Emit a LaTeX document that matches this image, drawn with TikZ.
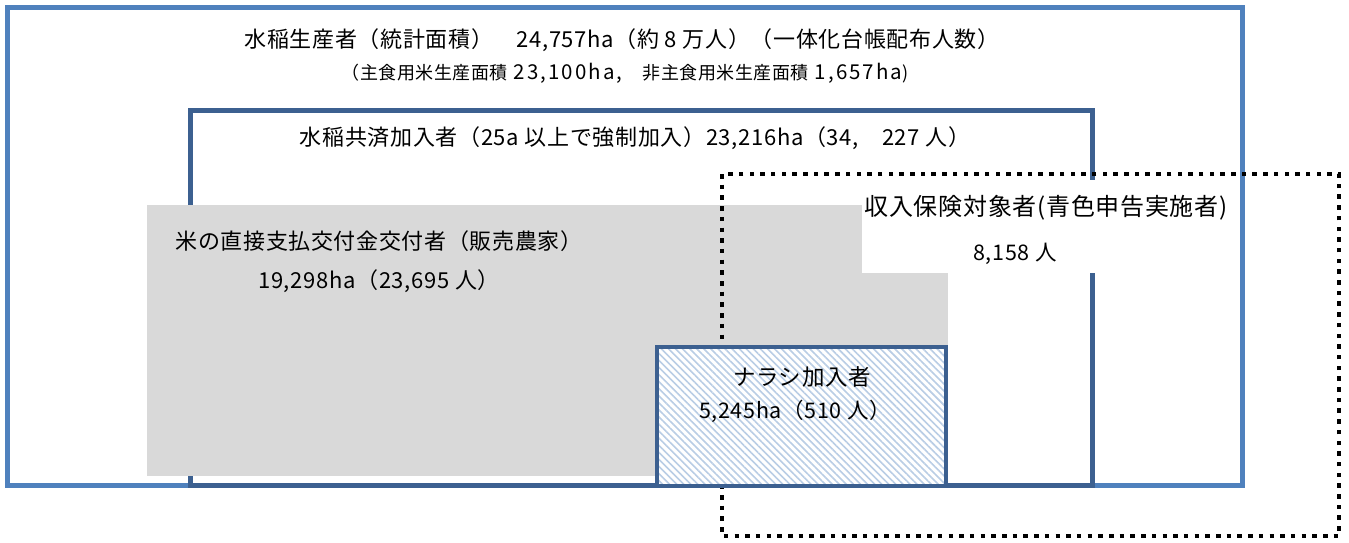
\documentclass[tikz,border=0pt]{standalone}
\usepackage{fontspec}
\setmainfont{Noto Sans CJK JP}[LetterSpace=3]
\usetikzlibrary{patterns.meta}
\definecolor{outerblue}{HTML}{4F81BD}
\definecolor{innerblue}{HTML}{3C6090}
\definecolor{boxgray}{HTML}{D9D9D9}
\definecolor{hatchblue}{HTML}{B9CDE5}
\tikzset{
  outerbox/.style={draw=outerblue,line width=5pt},
  innerbox/.style={draw=innerblue,line width=5pt},
  dotbox/.style={draw=black,line width=4.5pt,dash pattern=on 4.5pt off 6.2pt},
  lbl/.style={inner sep=0pt,anchor=center,text=black},
}
\newcommand{\fs}[1]{\fontsize{#1}{#1}\selectfont}
\newcommand{\widedg}[1]{{\fontsize{20.5}{20.5}\selectfont\addfontfeature{LetterSpace=10}#1}}
\begin{document}
\begin{tikzpicture}[x=1pt,y=-1pt]
\useasboundingbox (0,0) rectangle (1349,543);
% outer box
\draw[outerbox] (7,8) rectangle (1242,485);
% inner box
\draw[innerbox] (190,110) rectangle (1092,485);
% gray area
\fill[boxgray] (147,205) rectangle (948,476);
% white label area
\fill[white] (862,180) rectangle (1097,273);
% dotted box
\draw[dotbox] (722,174) rectangle (1339,536);
% Narashi box
\fill[white] (657,347) rectangle (946,486);
\fill[pattern={Lines[angle=-45,distance=5pt,line width=1.6pt]},pattern color=hatchblue] (657,347) rectangle (946,486);
\draw[innerbox,line width=4.5pt] (657,347) rectangle (946,486);
% texts
\node[lbl] (t1) at (622,40) {\fs{22}水稲生産者（統計面積）　24,757ha（約 8 万人）（一体化台帳配布人数）};
\node[lbl] (t2) at (625,73) {\fs{18}（主食用米生産面積\hspace{6pt}\widedg{23,100ha,}\hspace{20pt}非主食用米生産面積\hspace{6pt}\widedg{1,657ha})};
\node[lbl] (t3) at (635,138) {\fs{22}水稲共済加入者（25a 以上で強制加入）23,216ha（34,　227 人）};
\node[lbl] (t4) at (379,241) {\fs{22}米の直接支払交付金交付者（販売農家）};
\node[lbl] (t5) at (379,281) {\fs{22}19,298ha（23,695 人）};
\node[lbl] (t6) at (1046,208) {\fs{24}収入保険対象者(青色申告実施者)};
\node[lbl] (t7) at (1015,254) {\fs{21.5}8,158 人};
\node[lbl] (t8) at (802,377) {\fs{22.5}ナラシ加入者};
\node[lbl] (t9) at (795,411) {\fs{21.5}5,245ha（510 人）};
\end{tikzpicture}
\end{document}
